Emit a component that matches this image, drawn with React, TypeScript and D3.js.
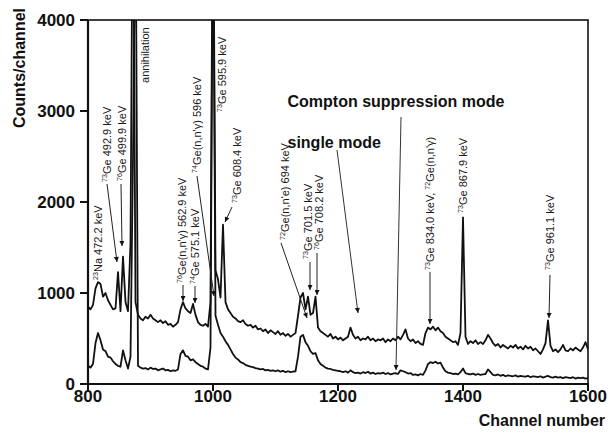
import React from 'react';
import * as d3 from 'd3';

// Channel grid: 800..1600, every 4 channels
const channelStart = 800;
const channelStep = 4;

// Single mode spectrum (upper curve), counts/channel
const singleMode = [
  850, 820, 870, 1050, 1120, 1100, 960, 1000, 920, 870,
  820, 830, 1230, 800, 1400, 900, 800, 1550, 6000, 900,
  760, 720, 700, 740, 720, 760, 720, 700, 680, 700,
  670, 690, 650, 660, 630, 650, 680, 820, 900, 830,
  800, 780, 880, 760, 680, 650, 640, 660, 630, 900,
  6000, 1250, 1150, 950, 1750, 900, 820, 780, 740, 720,
  690, 680, 700, 660, 640, 650, 620, 640, 600, 610,
  580, 600, 560, 590, 570, 550, 580, 540, 560, 530,
  550, 520, 540, 560, 750, 950, 1000, 820, 960, 760,
  780, 960, 620, 580, 560, 540, 520, 550, 500, 520,
  490, 510, 480, 500, 520, 620, 540, 500, 520, 480,
  500, 490, 520, 480, 500, 470, 490, 480, 500, 460,
  490, 470, 500, 480, 520, 490, 540, 600, 500, 470,
  490, 450, 470, 440, 430, 560, 620, 600, 630, 590,
  620, 580, 560, 520, 500, 480, 460, 470, 430, 560,
  1830, 520, 440, 470, 450, 480, 440, 460, 440, 480,
  540, 500, 450, 420, 440, 400, 430, 410, 390, 420,
  400, 430, 390, 410, 380, 420, 390, 410, 370, 390,
  360, 330, 380, 450, 700, 420, 360, 380, 350, 380,
  430, 370, 360, 390, 370, 400, 380, 360, 400, 460,
  380,
];

// Compton suppression mode spectrum (lower curve)
const comptonMode = [
  200, 180, 220, 450, 560, 480, 380, 360, 300, 290,
  250, 220, 200, 190, 370, 260, 170, 300, 2500, 5500,
  200, 180, 170, 175, 160, 180, 165, 170, 150, 160,
  170, 150, 155, 140, 150, 145, 160, 330, 370, 310,
  300, 260, 270, 240, 220, 200, 190, 170, 160, 400,
  5500, 750, 650, 560, 520, 470, 430, 380, 330, 290,
  270, 240, 230, 210, 200, 190, 185, 175, 170, 160,
  165, 150, 155, 145, 150, 140, 150, 135, 145, 130,
  140, 130, 135, 140, 300, 520, 540, 460, 420, 360,
  330, 340, 260, 220, 200, 180, 170, 165, 155, 150,
  145, 140, 130, 140, 125, 150, 130, 120, 125, 115,
  130, 120, 135, 115, 125, 110, 120, 115, 125, 110,
  120, 105, 115, 120, 110, 150, 140, 130, 115, 120,
  100, 105, 95, 110, 100, 150, 220, 240, 230, 245,
  225, 235, 180, 140, 125, 120, 110, 115, 105, 130,
  170, 120, 110, 105, 115, 100, 110, 100, 105, 110,
  160, 130, 100, 95, 105, 90, 100, 85, 95, 90,
  85, 95, 80, 90, 85, 80, 90, 75, 85, 80,
  75, 85, 70, 80, 90, 75, 70, 80, 70, 75,
  65, 75, 70, 65, 75, 60, 70, 65, 70, 60,
  65,
];

const xTicks = [800, 1000, 1200, 1400, 1600];
const yTicks = [0, 1000, 2000, 3000, 4000];
const xTitle = 'Channel number';
const yTitle = 'Counts/channel';

// Peak labels: text parts, anchor (channel, counts), optional arrow [ch1, v1, ch2, v2]
type Part = [string, string];
const peakLabels: { parts: Part[]; ch: number; v: number; arrow?: number[] }[] = [
  { parts: [['s', '23'], ['t', 'Na 472.2 keV']], ch: 816, v: 1143 },
  { parts: [['s', '73'], ['t', 'Ge 492.9 keV']], ch: 830.4, v: 2220, arrow: [830.4, 2198, 846.4, 1341] },
  { parts: [['s', '76'], ['t', 'Ge 499.9 keV']], ch: 854.4, v: 2231, arrow: [852.8, 2198, 854.4, 1517] },
  { parts: [['t', 'annihilation']], ch: 891.2, v: 3308 },
  { parts: [['s', '76'], ['t', "Ge(n,n'\u03B3) 562.9 keV"]], ch: 950.4, v: 1110, arrow: [952, 1088, 952, 912] },
  { parts: [['s', '74'], ['t', 'Ge 575.1 keV']], ch: 971.2, v: 1099, arrow: [971.2, 1077, 971.2, 890] },
  { parts: [['s', '74'], ['t', "Ge(n,n'\u03B3) 596 keV"]], ch: 974.4, v: 2319, arrow: [974.4, 2286, 1001.6, 967] },
  { parts: [['s', '73'], ['t', 'Ge 595.9 keV']], ch: 1014.4, v: 2989 },
  { parts: [['s', '73'], ['t', 'Ge 608.4 keV']], ch: 1038.4, v: 1989, arrow: [1030.4, 1945, 1019.2, 1780] },
  { parts: [['s', '72'], ['t', "Ge(n,n'e) 694 keV"]], ch: 1115.2, v: 1583, arrow: [1108.8, 1550, 1150.4, 725] },
  { parts: [['s', '73'], ['t', 'Ge 701.5 keV']], ch: 1152, v: 1374, arrow: [1155.2, 1341, 1155.2, 1033] },
  { parts: [['s', '76'], ['t', 'Ge 708.2 keV']], ch: 1169.6, v: 1473, arrow: [1166.4, 1440, 1166.4, 978] },
  { parts: [['s', '73'], ['t', 'Ge 834.0 keV, '], ['s', '72'], ['t', "Ge(n,n'\u03B3)"]], ch: 1347.2, v: 1253, arrow: [1347.2, 1231, 1347.2, 659] },
  { parts: [['s', '73'], ['t', 'Ge 867.9 keV']], ch: 1400, v: 1879 },
  { parts: [['s', '73'], ['t', 'Ge 961.1 keV']], ch: 1539.2, v: 1253, arrow: [1539.2, 1198, 1537.6, 725] },
];

const modeLabels = [
  { text: 'Compton suppression mode', ch: 1119.2, v: 3044, arrow: [1300.8, 2934, 1292.8, 154] },
  { text: 'single mode', ch: 1119.2, v: 2594, arrow: [1198.4, 2572, 1232, 780] },
];

const W = 610, H = 433;
const FONT = "'Liberation Sans', Arial, sans-serif";

export default function App() {
  const x = d3.scaleLinear().domain([800, 1600]).range([88, 588]);
  const y = d3.scaleLinear().domain([0, 4000]).range([384, 20]);
  const line = d3
    .line<number>()
    .x((_, i) => x(channelStart + i * channelStep))
    .y((d) => y(d));

  const renderParts = (parts: Part[], size: number) => {
    let shifted = false;
    return parts.map((p, i) => {
      if (p[0] === 's') {
        const el = (
          <tspan key={i} fontSize={size * 0.65} dy={shifted ? 0 : -4}>
            {p[1]}
          </tspan>
        );
        shifted = true;
        return el;
      }
      const el = (
        <tspan key={i} fontSize={size} dy={shifted ? 4 : 0}>
          {p[1]}
        </tspan>
      );
      shifted = false;
      return el;
    });
  };

  return (
    <svg width={W} height={H} style={{ position: 'absolute', left: 0, top: 0, background: '#fff' }}>
      <defs>
        <clipPath id="plot">
          <rect x={88} y={20} width={500} height={364} />
        </clipPath>
        <marker id="ah" viewBox="0 0 10 10" refX={10} refY={5} markerWidth={6} markerHeight={5}
          markerUnits="userSpaceOnUse" orient="auto">
          <path d="M0,0 L10,5 L0,10 z" fill="#111" />
        </marker>
      </defs>
      <rect x={0} y={0} width={W} height={H} fill="#fff" />

      {/* spectra */}
      <g clipPath="url(#plot)" fill="none" stroke="#111" strokeWidth={1.8} strokeLinejoin="round">
        <path d={line(singleMode) || ''} />
        <path d={line(comptonMode) || ''} />
      </g>

      {/* frame */}
      <rect x={88} y={20} width={500} height={364} fill="none" stroke="#111" strokeWidth={1.6} />
      <line x1={88} x2={88} y1={20} y2={385} stroke="#111" strokeWidth={2.2} />
      <line x1={87} x2={589} y1={384} y2={384} stroke="#111" strokeWidth={2.2} />

      {/* y ticks */}
      {yTicks.map((t) => (
        <g key={t}>
          <line x1={80} x2={88} y1={y(t)} y2={y(t)} stroke="#111" strokeWidth={2} />
          <text x={75} y={y(t) + 6} textAnchor="end" fontFamily={FONT} fontWeight="bold" fontSize={17} fill="#111">
            {t}
          </text>
        </g>
      ))}
      {/* x ticks */}
      {xTicks.map((t) => (
        <g key={t}>
          <line x1={x(t)} x2={x(t)} y1={384} y2={391} stroke="#111" strokeWidth={2} />
          <text x={x(t)} y={402} textAnchor="middle" fontFamily={FONT} fontWeight="bold" fontSize={17} fill="#111">
            {t}
          </text>
        </g>
      ))}

      <text x={605} y={426} textAnchor="end" fontFamily={FONT} fontWeight="bold" fontSize={16} fill="#111">
        {xTitle}
      </text>
      <text transform={`translate(25,68) rotate(-90)`} textAnchor="middle" fontFamily={FONT} fontWeight="bold"
        fontSize={16} fill="#111">
        {yTitle}
      </text>

      {/* peak labels */}
      {peakLabels.map((a, i) => (
        <g key={i}>
          <text transform={`translate(${x(a.ch) + 4},${y(a.v)}) rotate(-90)`} fontFamily={FONT} fontSize={11}
            fill="#1a1a1a">
            {renderParts(a.parts, 11)}
          </text>
          {a.arrow && (
            <line x1={x(a.arrow[0])} y1={y(a.arrow[1])} x2={x(a.arrow[2])} y2={y(a.arrow[3])} stroke="#222"
              strokeWidth={1} markerEnd="url(#ah)" />
          )}
        </g>
      ))}

      {/* mode labels */}
      {modeLabels.map((m, i) => (
        <g key={i}>
          <text x={x(m.ch)} y={y(m.v)} fontFamily={FONT} fontWeight="bold" fontSize={16} fill="#111">
            {m.text}
          </text>
          <line x1={x(m.arrow[0])} y1={y(m.arrow[1])} x2={x(m.arrow[2])} y2={y(m.arrow[3])} stroke="#333"
            strokeWidth={1} markerEnd="url(#ah)" />
        </g>
      ))}
    </svg>
  );
}
